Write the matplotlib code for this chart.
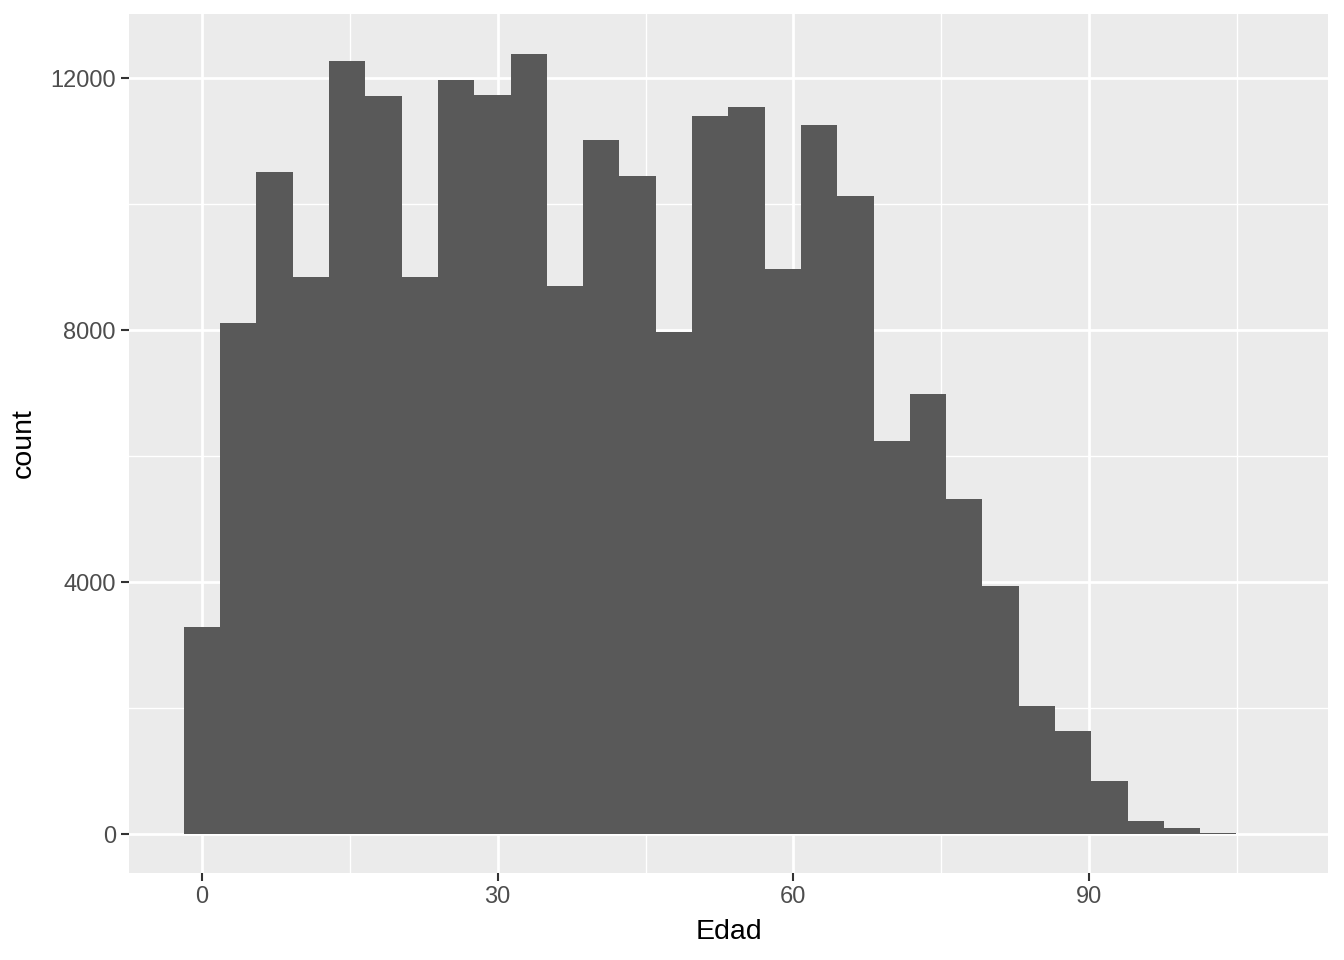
import numpy as np
import matplotlib
matplotlib.use("Agg")
import matplotlib.pyplot as plt

# histogram of Edad, 30 bins (ggplot default)
bin_width = 3.683
bin_start = -bin_width / 2
counts = [3290, 8110, 10510, 8840, 12270, 11710, 8840, 11970, 11730, 12380,
          8700, 11020, 10440, 7970, 11400, 11540, 8970, 11250, 10130, 6240,
          6980, 5320, 3940, 2030, 1635, 840, 206, 95, 15, 2]
x_ticks = [0, 30, 60, 90]
x_minor = [15, 45, 75, 105]
y_ticks = [0, 4000, 8000, 12000]
y_minor = [2000, 6000, 10000]

plt.rcParams['font.family'] = ['Liberation Sans', 'DejaVu Sans']

edges = bin_start + bin_width * np.arange(len(counts))

fig = plt.figure(figsize=(13.44, 9.6), dpi=100)
ax = fig.add_axes([129 / 1344, 87 / 960, (1328 - 129) / 1344, (873 - 14) / 960])
ax.set_facecolor('#EBEBEB')

for v in x_minor:
    ax.axvline(v, color='white', lw=1.0, zorder=0)
for v in y_minor:
    ax.axhline(v, color='white', lw=1.0, zorder=0)
for v in x_ticks:
    ax.axvline(v, color='white', lw=2.0, zorder=0)
for v in y_ticks:
    ax.axhline(v, color='white', lw=2.0, zorder=0)

ax.bar(edges, counts, width=bin_width, align='edge', color='#595959',
       linewidth=0, zorder=2)

ax.set_xlim(-7.41, 114.25)
ax.set_ylim(-619, 13016)
ax.set_xticks(x_ticks)
ax.set_yticks(y_ticks)
ax.set_xticklabels([str(v) for v in x_ticks])
ax.set_yticklabels([str(v) for v in y_ticks])
ax.tick_params(axis='both', length=5.5, width=1.5, color='#333333',
               labelcolor='#4D4D4D', labelsize=17, pad=4)
for s in ax.spines.values():
    s.set_visible(False)

ax.set_xlabel('Edad', fontsize=20.5, color='black', labelpad=8)
ax.set_ylabel('count', fontsize=20.5, color='black', labelpad=10)

fig.savefig('out.png', dpi=100, facecolor='white')
